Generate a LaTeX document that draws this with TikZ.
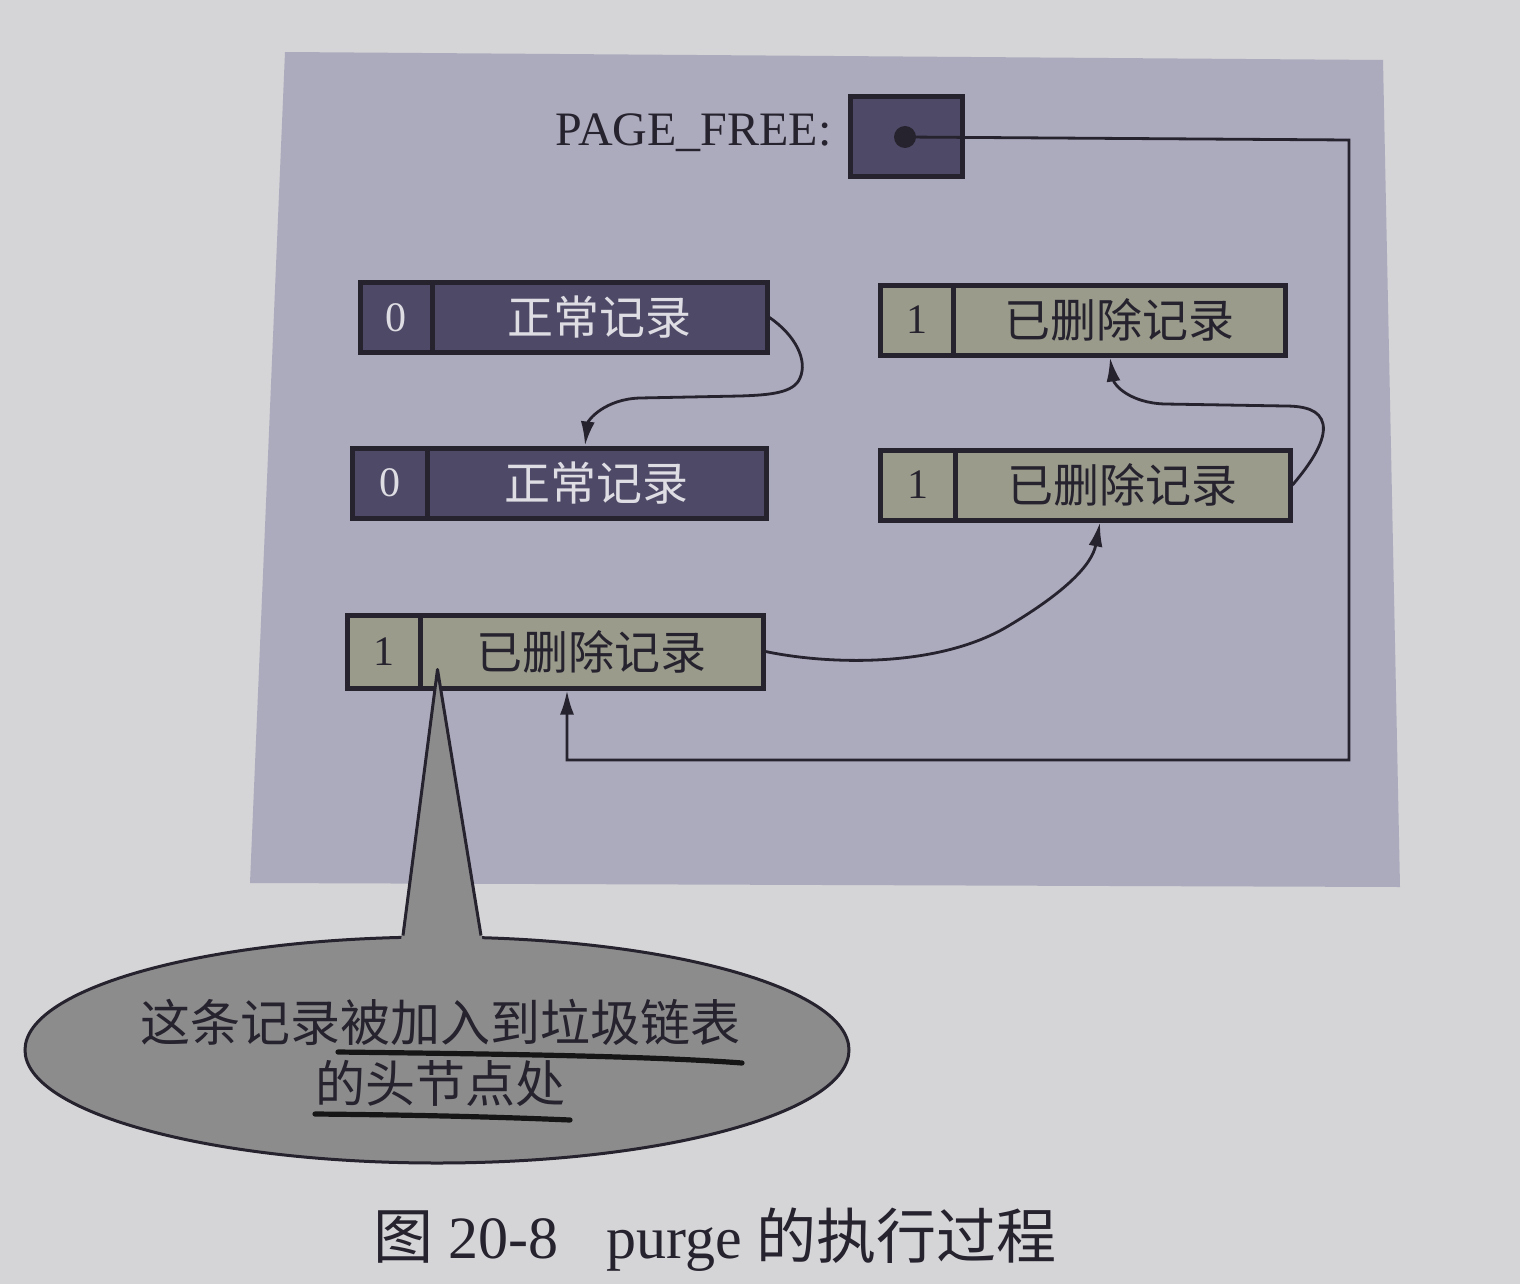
\documentclass[tikz,border=0pt]{standalone}
\usepackage{fontspec}
\setmainfont{Liberation Serif}
\newfontfamily\cjk{Noto Sans CJK SC}
\usetikzlibrary{arrows.meta,shapes.geometric}
\definecolor{paper}{HTML}{D5D5D7}
\definecolor{panel}{HTML}{ACAABD}
\definecolor{live}{HTML}{4E4966}
\definecolor{dead}{HTML}{9B9B8C}
\definecolor{ink}{HTML}{26222E}
\definecolor{lighttext}{HTML}{DEDDE4}
\definecolor{bubble}{HTML}{8C8C8C}
\definecolor{penink}{HTML}{161616}

\begin{document}
\begin{tikzpicture}[x=0.5pt,y=-0.5pt,
  cell/.style={draw=ink,line width=2.5pt,inner sep=0pt,minimum height=35pt},
  liveflag/.style={cell,fill=live,text=lighttext,font=\fontsize{21}{21}\selectfont},
  livebody/.style={cell,fill=live,text=lighttext,font=\cjk\fontsize{23}{23}\selectfont},
  deadflag/.style={cell,fill=dead,text=ink,font=\fontsize{21}{21}\selectfont},
  deadbody/.style={cell,fill=dead,text=ink,font=\cjk\fontsize{23}{23}\selectfont},
  link/.style={draw=ink,line width=1.4pt,-{Latex[length=12pt,width=7pt]}},
  pen/.style={draw=penink,line width=2.6pt,line cap=round},
  notetext/.style={text=ink,font=\cjk\fontsize{25}{25}\selectfont,inner sep=0pt},
]
% page and shaded panel
\fill[paper] (0,0) rectangle (1520,1284);
\useasboundingbox (0,0) rectangle (1520,1284);
\fill[panel] (285,52) -- (1383,60) -- (1400,887) -- (250,883) -- cycle;

% free-list head pointer
\node[anchor=east,text=ink,font=\fontsize{24}{24}\selectfont,inner sep=0pt] (pflabel) at (832,133) {PAGE\_FREE:};
\node[draw=ink,line width=2.5pt,fill=live,minimum width=56pt,minimum height=39.5pt,inner sep=0pt] (pf) at (906,136.5) {};
\node[circle,fill=ink,minimum size=11pt,inner sep=0pt] (dot) at (905,137) {};

% records: normal (left column)
\node[liveflag,minimum width=36pt] (a0) at (396,317.5) {0};
\node[livebody,minimum width=167.5pt] (a1) at (599.5,317.5) {正常记录};
\node[liveflag,minimum width=37.5pt] (b0) at (389.5,483) {0};
\node[livebody,minimum width=169.5pt] (b1) at (596.5,483) {正常记录};

% records: deleted
\node[deadflag,minimum width=36.5pt] (c0) at (916.5,320) {1};
\node[deadbody,minimum width=166pt] (c1) at (1119,320) {已删除记录};
\node[deadflag,minimum width=37.5pt] (d0) at (917.5,485) {1};
\node[deadbody,minimum width=167.5pt] (d1) at (1122.5,485) {已删除记录};
\node[deadflag,minimum width=36.5pt,minimum height=36.5pt] (e0) at (383.5,651.5) {1};
\node[deadbody,minimum width=171.5pt,minimum height=36.5pt] (e1) at (591.5,651.5) {已删除记录};

% record links
\draw[link] (a1.east) .. controls (795,335) and (808,360) .. (800,378)
  .. controls (794,393) and (770,395) .. (740,396) -- (640,398)
  .. controls (605,399) and (588,420) .. ([xshift=-5.75pt]b1.north);
\draw[link] (d1.east) .. controls (1312,462) and (1326,440) .. (1323,424)
  .. controls (1320,410) and (1305,406) .. (1285,406) -- (1165,404)
  .. controls (1130,403) and (1114,385) .. ([xshift=-4.5pt]c1.south);
\draw[link] (e1.east) .. controls (830,665) and (940,668) .. (1010,625)
  .. controls (1065,592) and (1092,565) .. ([xshift=-11.25pt]d1.south);

% free list: head pointer to the newly freed record
\coordinate (fr1) at (1349,140);
\coordinate (fr2) at (1349,760);
\coordinate (fr3) at (567,760);
\draw[link] (dot.center) -- (fr1) -- (fr2) -- (fr3) -- ([xshift=-12.25pt]e1.south);

% callout bubble
\node[ellipse,draw=ink,line width=1.5pt,fill=bubble,minimum width=412pt,minimum height=113pt,inner sep=0pt] (note) at (437,1050) {};
\coordinate (tip) at ([xshift=10pt,yshift=10.5pt]e1.south west);
\fill[bubble] (tip) -- ([xshift=-19pt,yshift=-10pt]note.north) -- ([xshift=24pt,yshift=-10pt]note.north) -- cycle;
\draw[ink,line width=1.5pt,line join=round] ([xshift=-17pt]note.north) -- (tip) -- ([xshift=22pt]note.north);
\node[notetext] (n1) at (440,1022) {这条记录被加入到垃圾链表};
\node[notetext] (n2) at (440,1083) {的头节点处};
\draw[pen] (338,1052) .. controls (500,1054) and (650,1056) .. (742,1063);
\draw[pen] (315,1114) .. controls (420,1115) and (500,1117) .. (570,1120);

% caption
\node[text=ink,font=\fontsize{30}{30}\selectfont,inner sep=0pt] (cap) at (715,1240) {{\cjk 图} 20-8\hspace{24pt}purge {\cjk 的执行过程}};
\end{tikzpicture}
\end{document}
